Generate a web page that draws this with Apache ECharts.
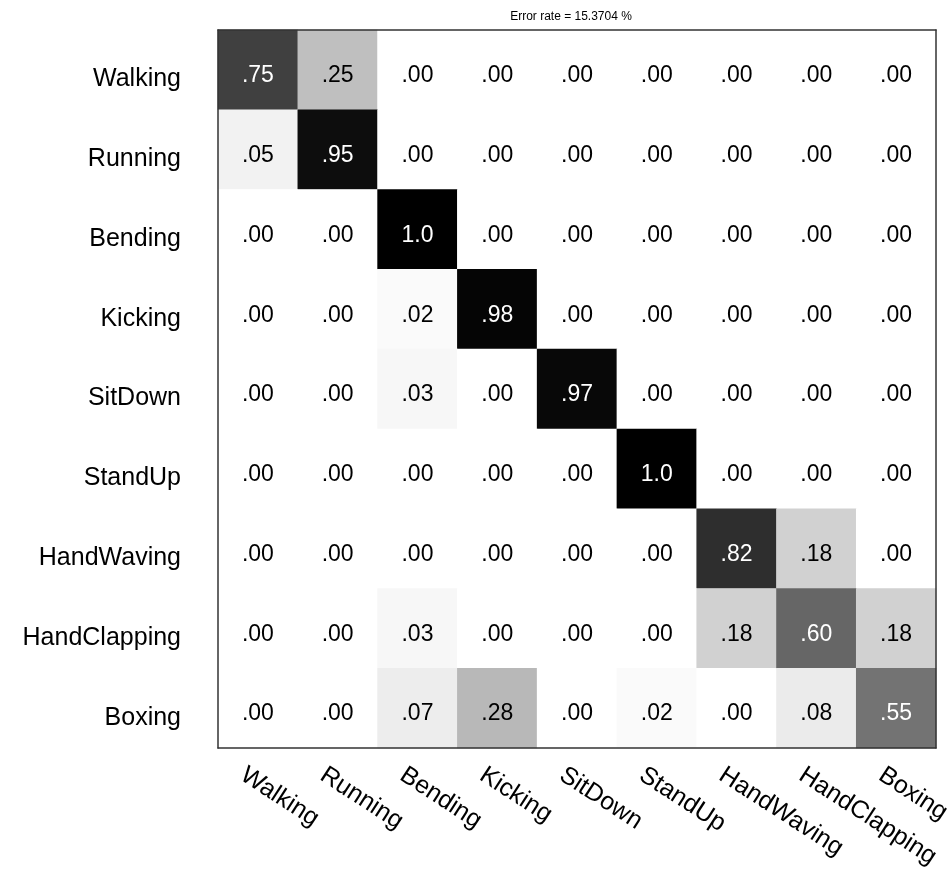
<!DOCTYPE html>
<html>
<head>
<meta charset="utf-8">
<script src="https://cdn.jsdelivr.net/npm/echarts@6/dist/echarts.min.js"></script>
<style>
  html, body { margin: 0; padding: 0; background: #fff; }
  #chart { width: 949px; height: 871px; }
</style>
</head>
<body>
<div id="chart"></div>
<script>
// Action classes (rows = true class, columns = predicted class)
const classes = ['Walking', 'Running', 'Bending', 'Kicking', 'SitDown', 'StandUp', 'HandWaving', 'HandClapping', 'Boxing'];

// Confusion matrix rows
const rowWalking      = [0.75, 0.25, 0.00, 0.00, 0.00, 0.00, 0.00, 0.00, 0.00];
const rowRunning      = [0.05, 0.95, 0.00, 0.00, 0.00, 0.00, 0.00, 0.00, 0.00];
const rowBending      = [0.00, 0.00, 1.00, 0.00, 0.00, 0.00, 0.00, 0.00, 0.00];
const rowKicking      = [0.00, 0.00, 0.02, 0.98, 0.00, 0.00, 0.00, 0.00, 0.00];
const rowSitDown      = [0.00, 0.00, 0.03, 0.00, 0.97, 0.00, 0.00, 0.00, 0.00];
const rowStandUp      = [0.00, 0.00, 0.00, 0.00, 0.00, 1.00, 0.00, 0.00, 0.00];
const rowHandWaving   = [0.00, 0.00, 0.00, 0.00, 0.00, 0.00, 0.82, 0.18, 0.00];
const rowHandClapping = [0.00, 0.00, 0.03, 0.00, 0.00, 0.00, 0.18, 0.60, 0.18];
const rowBoxing       = [0.00, 0.00, 0.07, 0.28, 0.00, 0.02, 0.00, 0.08, 0.55];

const matrix = [rowWalking, rowRunning, rowBending, rowKicking, rowSitDown,
                rowStandUp, rowHandWaving, rowHandClapping, rowBoxing];

const titleText = 'Error rate = 15.3704 %';

const FONT = 'Liberation Sans, Arial, sans-serif';
const FRAME = { show: true, onZero: false, lineStyle: { color: '#333', width: 1.5 } };

// Heatmap items: [column, row, value]; dark cells get white text
const cells = [];
matrix.forEach((row, r) => {
  row.forEach((v, c) => {
    cells.push({
      value: [c, r, v],
      label: { color: v > 0.5 ? '#ffffff' : '#000000' }
    });
  });
});

function fmt(v) {
  if (v >= 1) return '1.0';
  return '.' + String(Math.round(v * 100)).padStart(2, '0');
}

const chart = echarts.init(document.getElementById('chart'));
chart.setOption({
  backgroundColor: '#ffffff',
  animation: false,
  title: {
    text: titleText,
    left: 566,
    textAlign: 'center',
    top: 6,
    textStyle: { fontFamily: FONT, fontSize: 12, fontWeight: 'normal', color: '#000' }
  },
  grid: {
    left: 218, top: 30, width: 718, height: 718,
    containLabel: false,
    outerBoundsMode: 'none'
  },
  xAxis: [{
    type: 'category',
    data: classes,
    position: 'bottom',
    z: 5,
    axisLine: FRAME,
    axisTick: { show: false },
    splitLine: { show: false },
    axisLabel: {
      rotate: -33,
      interval: 0,
      margin: 20,
      verticalAlign: 'top',
      padding: [0, 0, 0, -10],
      fontFamily: FONT,
      fontSize: 25,
      color: '#000'
    }
  }, {
    type: 'category',
    data: classes,
    position: 'top',
    z: 5,
    axisLine: FRAME,
    axisTick: { show: false },
    axisLabel: { show: false }
  }],
  yAxis: [{
    type: 'category',
    data: classes,
    inverse: true,
    position: 'left',
    z: 5,
    axisLine: FRAME,
    axisTick: { show: false },
    splitLine: { show: false },
    axisLabel: {
      margin: 37,
      verticalAlign: 'top',
      lineHeight: 19,
      fontFamily: FONT,
      fontSize: 25,
      color: '#000'
    }
  }, {
    type: 'category',
    data: classes,
    inverse: true,
    position: 'right',
    z: 5,
    axisLine: FRAME,
    axisTick: { show: false },
    axisLabel: { show: false }
  }],
  visualMap: {
    show: false,
    type: 'continuous',
    min: 0,
    max: 1,
    dimension: 2,
    inRange: { color: ['#ffffff', '#000000'] }
  },
  series: [{
    type: 'heatmap',
    xAxisIndex: 0,
    yAxisIndex: 0,
    data: cells,
    z: 1,
    label: {
      show: true,
      offset: [0, 6],
      fontFamily: FONT,
      fontSize: 23,
      formatter: p => fmt(p.value[2])
    },
    itemStyle: { borderWidth: 0 },
    emphasis: { disabled: true }
  }]
});
</script>
</body>
</html>
